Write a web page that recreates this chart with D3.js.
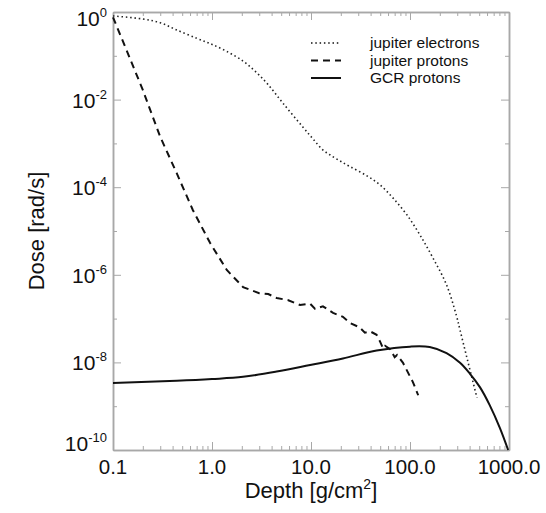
<!DOCTYPE html>
<html>
<head>
<meta charset="utf-8">
<script src="https://cdn.jsdelivr.net/npm/d3@7"></script>
<style>
  body { margin: 0; background: #fff; }
  svg { font-family: "Liberation Sans", Arial, sans-serif; }
</style>
</head>
<body>
<div class="chart"></div>
<script>
var svgWidth = 546;
var svgHeight = 513;

// depth [g/cm2] and log10(dose)
var elecDepth = [0.1, 0.2, 0.3, 0.44, 0.7, 0.955, 1.385, 2.06, 2.72, 3.6, 5.2, 8.3, 10.5, 12.9, 15.5, 19.6, 24.8, 36.7, 50, 67.5, 93, 126, 171, 234, 295, 320, 385, 475];
var elecLogDose = [-0.09, -0.16, -0.245, -0.41, -0.60, -0.72, -0.89, -1.12, -1.35, -1.63, -2.08, -2.63, -2.90, -3.13, -3.26, -3.40, -3.53, -3.74, -3.95, -4.25, -4.63, -5.09, -5.62, -6.23, -6.94, -7.26, -7.99, -8.81];

var protDepth = [0.1, 0.137, 0.2, 0.3, 0.44, 0.64, 0.955, 1.41, 2.06, 3.0, 3.7, 4.5, 5.9, 7.75, 9.8, 11, 13.2, 16.7, 21, 24.8, 31, 35, 39.5, 46, 50, 53.5, 56, 63, 70, 74, 85, 107, 121];
var protLogDose = [-0.12, -0.87, -1.78, -2.85, -3.68, -4.52, -5.27, -5.89, -6.28, -6.42, -6.44, -6.53, -6.58, -6.69, -6.66, -6.78, -6.72, -6.87, -6.96, -7.1, -7.2, -7.32, -7.29, -7.37, -7.53, -7.68, -7.62, -7.7, -7.88, -7.83, -8.01, -8.45, -8.75];

var gcrDepth = [0.1, 0.44, 1.0, 2.06, 4.5, 9.8, 21, 46, 100, 158, 234, 320, 400, 510, 640, 810, 980];
var gcrLogDose = [-8.47, -8.42, -8.38, -8.33, -8.21, -8.06, -7.91, -7.73, -7.64, -7.65, -7.79, -8.01, -8.25, -8.57, -8.98, -9.50, -10.0];

var xMajor = [0.1, 1, 10, 100, 1000];
var yMajorExp = [0, -2, -4, -6, -8, -10];
var yMinorExp = [-1, -3, -5, -7, -9];
var legendLabels = ["jupiter electrons", "jupiter protons", "GCR protons"];

var plot = { left: 113, right: 509, top: 12, bottom: 450 };
var axisColor = "#a8a8a8";

var svg = d3.select(".chart")
  .append("svg")
  .attr("width", svgWidth)
  .attr("height", svgHeight);

var xScale = d3.scaleLog()
  .domain([0.1, 1000])
  .range([plot.left, plot.right]);

var yScale = d3.scaleLog()
  .domain([1e-10, 1])
  .range([plot.bottom, plot.top]);

// minor x ticks 2..9 per decade
var xMinor = [];
xMajor.slice(0, -1).forEach(function(d) {
  for (var k = 2; k <= 9; k++) xMinor.push(d * k);
});
var yMajor = yMajorExp.map(e => Math.pow(10, e));
var yMinor = yMinorExp.map(e => Math.pow(10, e));

function styleAxis(g) {
  g.selectAll("path").attr("stroke", axisColor).attr("stroke-width", 1.5);
  g.selectAll("line").attr("stroke", axisColor).attr("stroke-width", 1);
  g.selectAll("text").remove();
}

// bottom + top
[[d3.axisBottom, plot.bottom], [d3.axisTop, plot.top]].forEach(function(a) {
  svg.append("g")
    .attr("transform", `translate(0, ${a[1]})`)
    .call(a[0](xScale).tickValues(xMajor).tickSize(-8).tickSizeOuter(0).tickFormat(""))
    .call(styleAxis);
  svg.append("g")
    .attr("transform", `translate(0, ${a[1]})`)
    .call(a[0](xScale).tickValues(xMinor).tickSize(-4).tickSizeOuter(0).tickFormat(""))
    .call(styleAxis);
});

// left + right
[[d3.axisLeft, plot.left], [d3.axisRight, plot.right]].forEach(function(a) {
  svg.append("g")
    .attr("transform", `translate(${a[1]}, 0)`)
    .call(a[0](yScale).tickValues(yMajor).tickSize(-8).tickSizeOuter(0).tickFormat(""))
    .call(styleAxis);
  svg.append("g")
    .attr("transform", `translate(${a[1]}, 0)`)
    .call(a[0](yScale).tickValues(yMinor).tickSize(-4).tickSizeOuter(0).tickFormat(""))
    .call(styleAxis);
});

// x tick labels
svg.append("g").selectAll("text")
  .data(xMajor)
  .enter()
  .append("text")
  .attr("x", d => xScale(d))
  .attr("y", 474)
  .attr("text-anchor", "middle")
  .attr("font-size", 20.5)
  .attr("fill", "#111")
  .text(d => d3.format(".1f")(d));

// y tick labels 10^n, end labels pulled inside like the original
var yLab = svg.append("g").selectAll("text")
  .data(yMajorExp)
  .enter()
  .append("text")
  .attr("x", 107)
  .attr("y", function(d, i) {
    var off = 8;
    if (i === 0) off = 14;
    if (i === yMajorExp.length - 1) off = 1;
    return yScale(Math.pow(10, d)) + off;
  })
  .attr("text-anchor", "end")
  .attr("font-size", 21)
  .attr("fill", "#111");
yLab.append("tspan").text("10");
yLab.append("tspan")
  .attr("font-size", 13)
  .attr("dy", -9)
  .text(d => d);

// axis titles
var xTitle = svg.append("text")
  .attr("x", (plot.left + plot.right) / 2)
  .attr("y", 498)
  .attr("text-anchor", "middle")
  .attr("font-size", 22)
  .attr("fill", "#111");
xTitle.append("tspan").text("Depth [g/cm");
xTitle.append("tspan").attr("font-size", 14).attr("dy", -9).text("2");
xTitle.append("tspan").attr("dy", 9).text("]");

svg.append("text")
  .attr("transform", "rotate(-90)")
  .attr("x", -(plot.top + plot.bottom) / 2)
  .attr("y", 44)
  .attr("text-anchor", "middle")
  .attr("font-size", 22)
  .attr("fill", "#111")
  .text("Dose [rad/s]");

// curves
var smooth = d3.line()
  .x(d => xScale(d[0]))
  .y(d => yScale(Math.pow(10, d[1])))
  .curve(d3.curveCatmullRom.alpha(0.5));

var rough = d3.line()
  .x(d => xScale(d[0]))
  .y(d => yScale(Math.pow(10, d[1])));

svg.append("path")
  .datum(d3.zip(elecDepth, elecLogDose))
  .attr("d", smooth)
  .attr("fill", "none")
  .attr("stroke", "#222")
  .attr("stroke-width", 1.6)
  .attr("stroke-dasharray", "1.5,2.8");

svg.append("path")
  .datum(d3.zip(protDepth, protLogDose))
  .attr("d", rough)
  .attr("fill", "none")
  .attr("stroke", "#111")
  .attr("stroke-width", 2)
  .attr("stroke-dasharray", "7,5");

svg.append("path")
  .datum(d3.zip(gcrDepth, gcrLogDose))
  .attr("d", smooth)
  .attr("fill", "none")
  .attr("stroke", "#111")
  .attr("stroke-width", 2);

// legend
var legendDash = ["1.5,2.8", "7,5", null];
var legend = svg.append("g")
  .attr("transform", "translate(311, 43)");
legendLabels.forEach(function(lbl, i) {
  var row = legend.append("g").attr("transform", `translate(0, ${i * 17.5})`);
  row.append("line")
    .attr("x1", 0).attr("x2", 30)
    .attr("stroke", "#111")
    .attr("stroke-width", i === 0 ? 1.6 : 2)
    .attr("stroke-dasharray", legendDash[i]);
  row.append("text")
    .attr("x", 59)
    .attr("y", 5)
    .attr("font-size", 15.5)
    .attr("fill", "#111")
    .text(lbl);
});
</script>
</body>
</html>
